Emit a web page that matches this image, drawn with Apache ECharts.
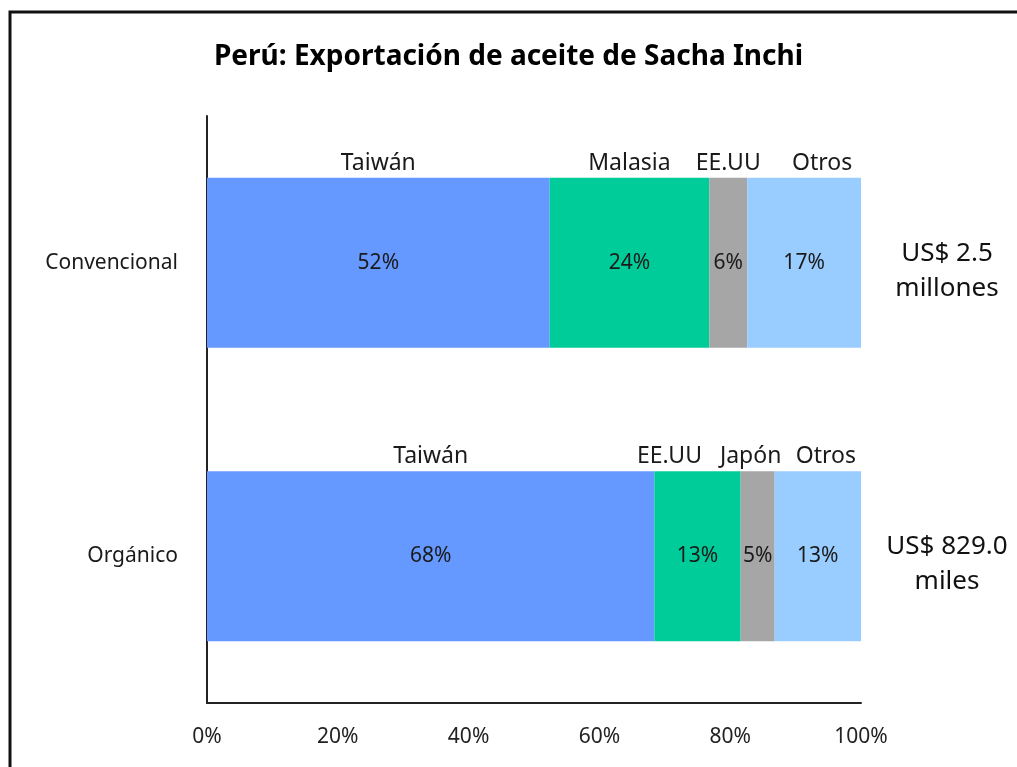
<!DOCTYPE html>
<html>
<head>
<meta charset="utf-8">
<script src="https://cdn.jsdelivr.net/npm/echarts@6/dist/echarts.min.js"></script>
<style>
  html, body { margin: 0; padding: 0; background: #fff; }
  #chart { width: 1017px; height: 767px; }
</style>
</head>
<body>
<div id="chart"></div>
<script>
  // categorias (de arriba a abajo)
  const categories = ['Convencional', 'Orgánico']
  const totals = ['US$ 2.5\nmillones', 'US$ 829.0\nmiles']

  // participacion por destino, en % (segmento 1..4 de cada barra)
  const seg1 = [52.4, 68.4]
  const seg2 = [24.4, 13.2]
  const seg3 = [5.8, 5.2]
  const seg4 = [17.4, 13.2]

  // nombre del destino de cada segmento, por categoria
  const names1 = ['Taiwán', 'Taiwán']
  const names2 = ['Malasia', 'EE.UU']
  const names3 = ['EE.UU', 'Japón']
  const names4 = ['Otros', 'Otros']

  const xTicks = [0, 20, 40, 60, 80, 100]

  const colors = ['#6699ff', '#00cc99', '#a6a6a6', '#99ccff']
  // desplazamiento horizontal de las etiquetas de destino (como en el original)
  const nameShift = [[0, 0], [0, -28], [0, -7], [18, 8]]

  const FONT = 'Noto Sans'
  const segs = [seg1, seg2, seg3, seg4]
  const names = [names1, names2, names3, names4]

  const chart = echarts.init(document.getElementById('chart'))

  const valueSeries = segs.map((seg, i) => ({
    type: 'bar',
    stack: 'share',
    barCategoryGap: '42%',
    barGap: '-100%',
    silent: true,
    itemStyle: { color: colors[i] },
    label: {
      show: true,
      position: 'inside',
      fontFamily: FONT,
      fontSize: 21,
      color: '#1a1a1a',
      formatter: p => Math.round(p.value) + '%'
    },
    data: seg
  }))

  const nameSeries = segs.map((seg, i) => ({
    type: 'bar',
    stack: 'names',
    barCategoryGap: '42%',
    barGap: '-100%',
    silent: true,
    itemStyle: { color: 'transparent' },
    data: seg.map((v, j) => ({
      value: v,
      label: {
        show: true,
        position: 'top',
        distance: 3,
        offset: [nameShift[i][j], 0],
        fontFamily: FONT,
        fontSize: 23,
        color: '#1a1a1a',
        formatter: names[i][j]
      }
    }))
  }))

  chart.setOption({
    animation: false,
    title: {
      text: 'Perú: Exportación de aceite de Sacha Inchi',
      left: 'center',
      top: 38,
      textStyle: { fontFamily: FONT, fontSize: 28, fontWeight: 'bold', color: '#000' }
    },
    graphic: [{
      type: 'rect',
      shape: { x: 10, y: 12, width: 1030, height: 800 },
      style: { fill: 'none', stroke: '#111', lineWidth: 3 },
      silent: true
    }],
    grid: { left: 207, right: 156, top: 116, bottom: 64 },
    xAxis: {
      type: 'value',
      min: 0,
      max: 100,
      interval: 20,
      axisLine: { show: true, lineStyle: { color: '#222', width: 2 } },
      axisTick: { show: false },
      splitLine: { show: false },
      axisLabel: {
        fontFamily: FONT,
        fontSize: 21,
        color: '#222',
        margin: 24,
        formatter: v => xTicks.includes(v) ? v + '%' : ''
      }
    },
    yAxis: [{
      type: 'category',
      inverse: true,
      data: categories,
      axisLine: { show: true, lineStyle: { color: '#222', width: 2 } },
      axisTick: { show: false },
      axisLabel: { fontFamily: FONT, fontSize: 21, color: '#1a1a1a', margin: 29 }
    }, {
      type: 'category',
      inverse: true,
      position: 'right',
      data: totals,
      axisLine: { show: false },
      axisTick: { show: false },
      axisLabel: {
        align: 'center',
        margin: 86,
        // una linea vacia arriba baja un poco el bloque, como en el original
        formatter: v => '{s| }\n' + v.split('\n').map(s => '{t|' + s + '}').join('\n'),
        rich: {
          s: { fontSize: 10, lineHeight: 16 },
          t: { fontFamily: FONT, fontSize: 26, color: '#111', lineHeight: 35 }
        }
      }
    }],
    series: valueSeries.concat(nameSeries)
  })
</script>
</body>
</html>
